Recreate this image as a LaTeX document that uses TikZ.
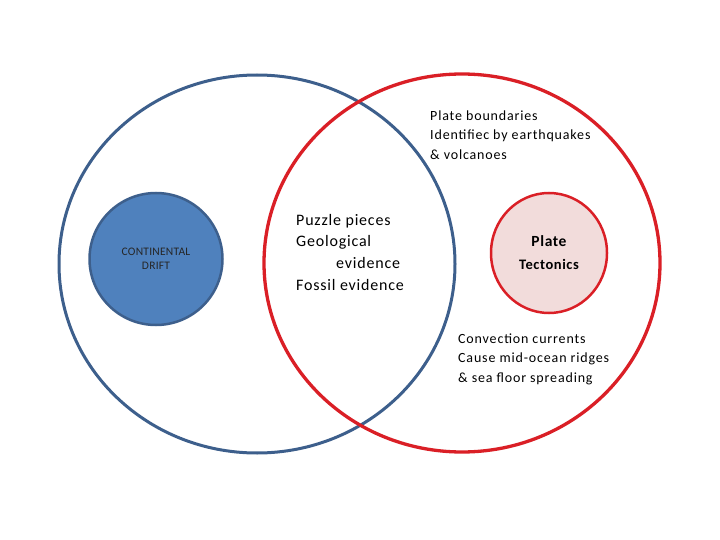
\documentclass[tikz,border=0pt]{standalone}
\usepackage{fontspec}
\setmainfont{Carlito}
\usetikzlibrary{shapes.geometric}
\definecolor{driftblue}{HTML}{4F81BD}
\definecolor{driftline}{HTML}{3D5F8C}
\definecolor{plateline}{HTML}{DA1F26}
\definecolor{platefill}{HTML}{F2DCDB}
\begin{document}
\begin{tikzpicture}[x=1pt,y=-1pt,
    bigring/.style={ellipse, draw, line width=3pt, minimum width=396pt, minimum height=378pt, inner sep=0pt},
    smallring/.style={ellipse, draw, line width=2.5pt, inner sep=0pt},
    note/.style={anchor=north west, align=left, inner sep=0pt}]
        \useasboundingbox (0,0) rectangle (720,540);
        \node[bigring, driftline] (D) at (257,264) {};
        \node[bigring, plateline, line width=3.3pt] (P) at (462,263) {};
        \node[smallring, draw=driftline, fill=driftblue, minimum width=133pt, minimum height=132pt, align=center,
              font=\fontsize{11.5}{13.5}\selectfont\addfontfeatures{LetterSpace=2}, text=black!85] (CD) at (156,259) {CONTINENTAL\\DRIFT};
        \node[smallring, draw=plateline, fill=platefill, minimum width=116pt, minimum height=120pt, align=center,
              font=\bfseries\fontsize{15.5}{20}\selectfont\addfontfeatures{LetterSpace=4}] (PT) at (549,253)
              {Plate\\[3pt]{\fontsize{14.5}{16}\selectfont\addfontfeatures{LetterSpace=4}Tectonics}};
        \node[note, font=\fontsize{16}{21.6}\selectfont\addfontfeatures{LetterSpace=5}] (E) at (296,214)
              {Puzzle pieces\\Geological\\\hspace*{40pt}evidence\\Fossil evidence};
        \node[note, font=\fontsize{14}{19.4}\selectfont\addfontfeatures{LetterSpace=6}] (B) at (430,110.5)
              {Plate boundaries\\Identifiec by earthquakes\\\& volcanoes};
        \node[note, font=\fontsize{14}{19.4}\selectfont\addfontfeatures{LetterSpace=6}] (C) at (458,333.5)
              {Convection currents\\Cause mid-ocean ridges\\\& sea floor spreading};
    \end{tikzpicture}
\end{document}
